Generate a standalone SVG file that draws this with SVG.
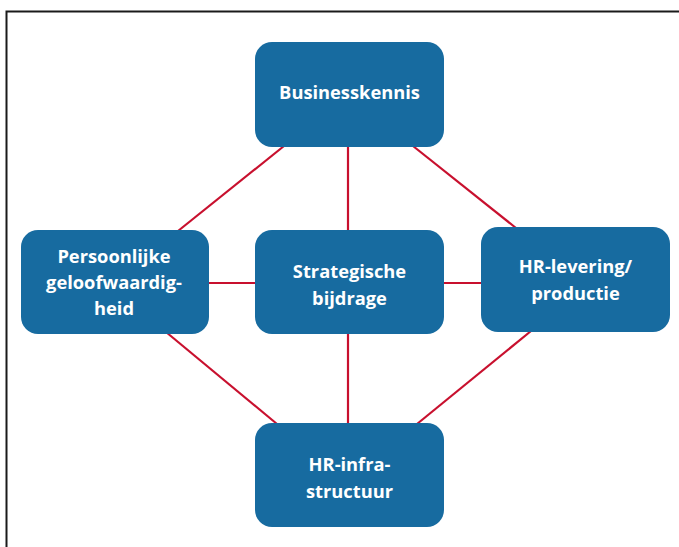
<svg xmlns="http://www.w3.org/2000/svg" width="679" height="547" viewBox="0 0 679 547">
  <style>
    .frame { fill: none; stroke: #1a1a1a; stroke-width: 2; }
    .link { stroke: #c8102e; stroke-width: 2.2; fill: none; }
    .box { fill: #176ba0; }
    .label { fill: #ffffff; font-family: "Open Sans", "Noto Sans", "Liberation Sans", sans-serif; font-weight: 700; font-size: 18.3px; text-anchor: middle; }
  </style>
  <rect width="679" height="547" fill="#ffffff"/>
  <!-- open frame: top and left edges -->
  <path class="frame" d="M6.5 547 V11.5 H679"/>

  <g id="connectors">
    <line class="link" x1="348" y1="147" x2="348" y2="230"/>
    <line class="link" x1="348" y1="334" x2="348" y2="423"/>
    <line class="link" x1="209" y1="283" x2="255" y2="283"/>
    <line class="link" x1="444" y1="283" x2="481" y2="283"/>
    <line class="link" x1="284" y1="146" x2="178" y2="231"/>
    <line class="link" x1="413" y1="146" x2="516" y2="228"/>
    <line class="link" x1="166" y1="332" x2="277" y2="424"/>
    <line class="link" x1="531" y1="331" x2="417" y2="424"/>
  </g>

  <g id="businesskennis">
    <rect class="box" x="255" y="42" width="189" height="105" rx="17"/>
    <text class="label" x="349.5" y="99">Businesskennis</text>
  </g>

  <g id="persoonlijke-geloofwaardigheid">
    <rect class="box" x="21" y="230" width="188" height="104" rx="17"/>
    <text class="label" x="114" y="263">Persoonlijke</text>
    <text class="label" x="114" y="289">geloofwaardig-</text>
    <text class="label" x="114" y="315">heid</text>
  </g>

  <g id="strategische-bijdrage">
    <rect class="box" x="255" y="230" width="189" height="104" rx="17"/>
    <text class="label" x="349.5" y="278">Strategische</text>
    <text class="label" x="349.5" y="305">bijdrage</text>
  </g>

  <g id="hr-levering">
    <rect class="box" x="481" y="227" width="189" height="105" rx="17"/>
    <text class="label" x="575.5" y="273">HR-levering/</text>
    <text class="label" x="575.5" y="300">productie</text>
  </g>

  <g id="hr-infrastructuur">
    <rect class="box" x="255" y="423" width="189" height="104" rx="17"/>
    <text class="label" x="349.5" y="471">HR-infra-</text>
    <text class="label" x="349.5" y="498">structuur</text>
  </g>
</svg>
